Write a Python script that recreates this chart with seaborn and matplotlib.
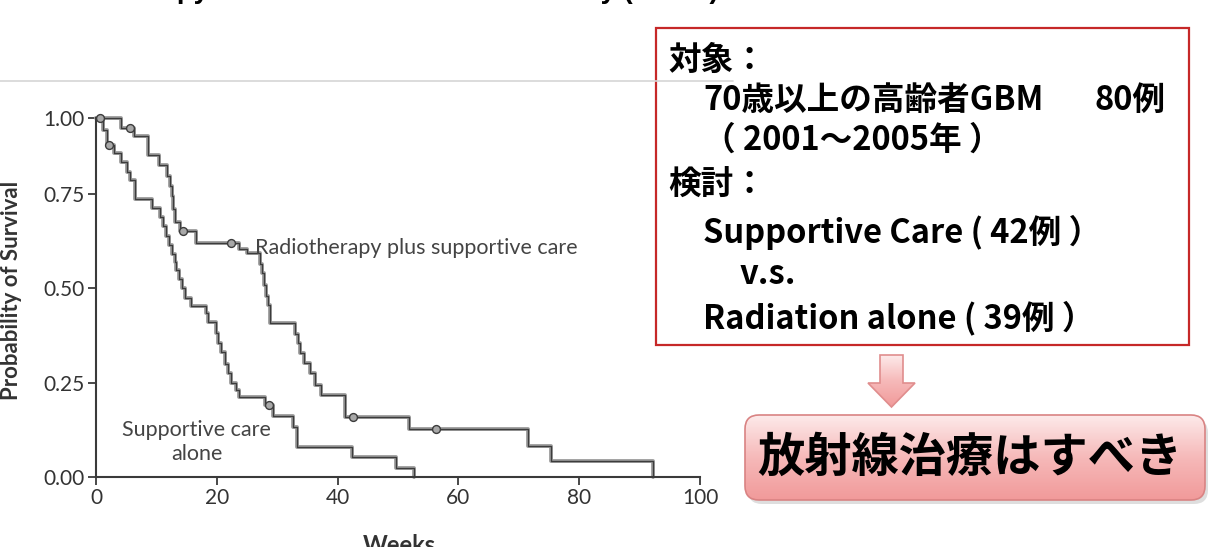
import numpy as np
import pandas as pd
import seaborn as sns
import matplotlib.pyplot as plt
from matplotlib.patches import FancyBboxPatch, Polygon, Rectangle
from matplotlib.colors import LinearSegmentedColormap

sns.set_theme(style='white')
plt.rcParams['font.family'] = ['Lato', 'DejaVu Sans']

# Kaplan-Meier steps (weeks, survival after the step)
rt_weeks = [0, 4.2, 6.3, 8.6, 10.4, 11.8, 12.2, 12.5, 12.8, 13.1, 13.9, 16.6, 23.7, 25.0,
            27.2, 27.5, 27.8, 28.1, 28.4, 28.8, 33.0, 33.4, 33.7, 34.5, 35.4, 36.2, 37.3,
            41.2, 51.9, 71.5, 75.3, 92.2]
rt_surv = [1.0, 0.968, 0.942, 0.879, 0.846, 0.810, 0.777, 0.744, 0.710, 0.677, 0.651, 0.621, 0.605, 0.593,
           0.565, 0.540, 0.510, 0.480, 0.455, 0.408, 0.380, 0.355, 0.328, 0.302, 0.275, 0.244, 0.218,
           0.160, 0.127, 0.082, 0.043, 0.0]
rt_cens_weeks = [5.7, 14.4, 22.4, 42.5, 56.3]
rt_cens_surv = [0.968, 0.651, 0.621, 0.160, 0.127]

sc_weeks = [0, 1.2, 1.8, 2.9, 4.2, 5.1, 5.6, 6.4, 9.3, 10.6,
            11.1, 11.6, 12.1, 12.6, 13.0, 13.3, 13.8, 14.3, 14.8, 15.8,
            18.2, 18.6, 19.9, 20.2, 20.7, 21.3, 21.8, 22.4, 23.2, 23.7,
            28.0, 29.3, 32.6, 33.2, 42.4, 49.7, 52.6]
sc_surv = [1.0, 0.962, 0.912, 0.887, 0.857, 0.824, 0.796, 0.737, 0.713, 0.690,
           0.665, 0.640, 0.615, 0.590, 0.570, 0.549, 0.525, 0.500, 0.475, 0.452,
           0.434, 0.410, 0.381, 0.355, 0.330, 0.300, 0.275, 0.250, 0.230, 0.213,
           0.191, 0.162, 0.133, 0.079, 0.052, 0.025, 0.0]
sc_cens_weeks = [0.7, 2.2, 28.6]
sc_cens_surv = [1.0, 0.912, 0.191]

x_ticks = [0, 20, 40, 60, 80, 100]
y_ticks = [0.0, 0.25, 0.50, 0.75, 1.00]

title = 'Radiotherapy for Glioblastoma in the Elderly (NEJM)'
box_lines = [
    (668, 60, '対象：'),
    (703, 100, '70歳以上の高齢者GBM'),
    (1095, 100, '80例'),
    (703, 140, '（ 2001～2005年 ）'),
    (668, 185, '検討：'),
    (703, 232, 'Supportive Care ( 42例 ）'),
    (740, 275, 'v.s.'),
    (703, 318, 'Radiation alone ( 39例 ）'),
]
conclusion = '放射線治療はすべき'

# the scanned figure has its top quarter squeezed a bit
TOP_SQUEEZE = 75.5 / 94.3


def fwd(y):
    y = np.asarray(y, dtype=float)
    return np.where(y <= 0.75, y, 0.75 + (y - 0.75) * TOP_SQUEEZE)


def inv(t):
    t = np.asarray(t, dtype=float)
    return np.where(t <= 0.75, t, 0.75 + (t - 0.75) / TOP_SQUEEZE)


W, H = 1212, 547
fig = plt.figure(figsize=(W / 100, H / 100), dpi=100)
fig.patch.set_facecolor('white')
ax = fig.add_axes([96 / W, 70 / H, 604 / W, 358.5 / H])

rt = pd.DataFrame({'weeks': rt_weeks, 'surv': rt_surv})
sc = pd.DataFrame({'weeks': sc_weeks, 'surv': sc_surv})
for df in (rt, sc):
    sns.lineplot(data=df, x='weeks', y='surv', drawstyle='steps-post', estimator=None, sort=False,
                 color='#a0a0a0', lw=2.8, ax=ax, clip_on=False)
    sns.lineplot(data=df, x='weeks', y='surv', drawstyle='steps-post', estimator=None, sort=False,
                 color='#3c3c3c', lw=1.0, ax=ax, clip_on=False)

sns.scatterplot(x=rt_cens_weeks + sc_cens_weeks, y=rt_cens_surv + sc_cens_surv, marker='o', s=32,
                color='#a8a8a8', edgecolor='#3c3c3c', linewidth=1.0, ax=ax, zorder=5, clip_on=False)

ax.set_yscale('function', functions=(fwd, inv))
ax.set_xlim(0, 100)
ax.set_ylim(0, 1)
ax.set_xticks(x_ticks)
ax.set_yticks(y_ticks)
ax.set_yticklabels(['%.2f' % v for v in y_ticks])
ax.minorticks_off()
sns.despine(ax=ax)
for side in ('left', 'bottom'):
    ax.spines[side].set_color('#3a3a3a')
    ax.spines[side].set_linewidth(1.5)
ax.tick_params(bottom=True, left=True, direction='out', length=6, width=1.3, color='#3a3a3a',
               labelsize=15, labelcolor='#333333', pad=2)
ax.set_xlabel('')
ax.set_ylabel('Probability of Survival', fontsize=16, fontweight='bold', color='#333333')
ax.yaxis.set_label_coords(-0.1225, 0.52)

ax.text(26.3, 0.607, 'Radiotherapy plus supportive care', fontsize=15.5, color='#444444', va='center')
ax.text(16.7, 0.093, 'Supportive care\nalone', fontsize=15.5, color='#444444', va='center', ha='center',
        multialignment='center', linespacing=1.3)
fig.text(399 / W, -6 / H, 'Weeks', fontsize=17, fontweight='bold', color='#333333', ha='center', va='baseline')

# slide decorations, drawn in pixel units
ov = fig.add_axes([0, 0, 1, 1])
ov.axis('off')
ov.patch.set_alpha(0)

ov.plot([0, 733], [81, 81], color='#d6d6d6', lw=1.2)
ov.text(33, -2.5, title, fontsize=19.8, fontweight='bold', va='baseline',
        family=['Liberation Sans', 'DejaVu Sans'], color='black')

ov.add_patch(Rectangle((656, 28), 533, 317, fill=False, edgecolor='#c62828', lw=1.6))
jp = ['Noto Sans CJK JP', 'DejaVu Sans']
for x, y, s in box_lines:
    ov.text(x, y, s, fontsize=23.5, fontweight='bold', va='center', ha='left', family=jp, color='black')

pink = LinearSegmentedColormap.from_list('pink', ['#fdeaea', '#f6b9b9', '#f19a9a'])
grad = np.linspace(0, 1, 200).reshape(-1, 1)

arrow = Polygon([(880, 355), (903, 355), (903, 383), (915, 383), (891.5, 407), (868, 383), (880, 383)],
                closed=True, fc='none', ec='#e08d8d', lw=1.2, zorder=3)
ov.add_patch(arrow)
im = ov.imshow(grad, cmap=pink, extent=(868, 915, 407, 355), aspect='auto', origin='upper', zorder=2)
im.set_clip_path(arrow)

shadow = FancyBboxPatch((748, 419), 460, 85, boxstyle='round,pad=0,rounding_size=14',
                        fc='#c4c4c4', ec='none', alpha=0.55, zorder=1)
ov.add_patch(shadow)
box = FancyBboxPatch((745, 415), 460, 85, boxstyle='round,pad=0,rounding_size=14',
                     fc='none', ec='#d98383', lw=1.2, zorder=3)
ov.add_patch(box)
im2 = ov.imshow(grad, cmap=pink, extent=(745, 1205, 500, 415), aspect='auto', origin='upper', zorder=2)
im2.set_clip_path(box)
ov.text(970, 458, conclusion, fontsize=34, fontweight='bold', ha='center', va='center',
        family=jp, color='black', zorder=4)

ov.set_xlim(0, W)
ov.set_ylim(H, 0)

fig.savefig('out.png', dpi=100)
